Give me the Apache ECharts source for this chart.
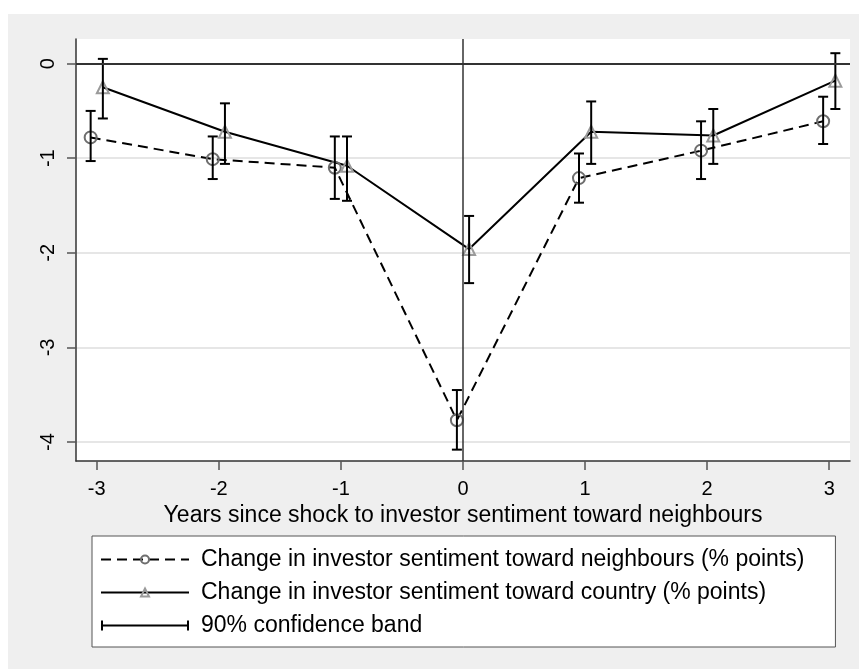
<!DOCTYPE html>
<html>
<head>
<meta charset="utf-8">
<script src="https://cdn.jsdelivr.net/npm/echarts@6/dist/echarts.min.js"></script>
<style>
  html, body { margin: 0; padding: 0; background: #fff; }
  #chart { width: 859px; height: 669px; }
</style>
</head>
<body>
<div id="chart"></div>
<script>
// Data
const years = [-3, -2, -1, 0, 1, 2, 3];
const neighbours = [-0.78, -1.01, -1.10, -3.77, -1.21, -0.92, -0.61];
const neighboursLo = [-1.03, -1.22, -1.43, -4.08, -1.47, -1.22, -0.85];
const neighboursHi = [-0.50, -0.77, -0.77, -3.45, -0.95, -0.61, -0.35];
const country = [-0.25, -0.72, -1.08, -1.96, -0.72, -0.76, -0.18];
const countryLo = [-0.58, -1.06, -1.45, -2.32, -1.06, -1.06, -0.48];
const countryHi = [0.05, -0.42, -0.77, -1.61, -0.40, -0.48, 0.11];
const yTicks = [0, -1, -2, -3, -4];
const dodge = 0.05; // points are shifted a little left/right of each year

const nameNeigh = "Change in investor sentiment toward neighbours (% points)";
const nameCountry = "Change in investor sentiment toward country (% points)";
const nameBand = "90% confidence band";

const FONT = "Arial, 'Liberation Sans', sans-serif";

const neighData = years.map((y, i) => [y - dodge, neighbours[i]]);
const countryData = years.map((y, i) => [y + dodge, country[i]]);
const bandData = years
  .map((y, i) => [y - dodge, neighboursLo[i], neighboursHi[i]])
  .concat(years.map((y, i) => [y + dodge, countryLo[i], countryHi[i]]));

const chart = echarts.init(document.getElementById("chart"), null, { renderer: "canvas" });

const option = {
  animation: false,
  backgroundColor: "#fff",
  textStyle: { fontFamily: FONT },
  graphic: [
    {
      type: "rect",
      z: -10,
      silent: true,
      shape: { x: 8, y: 14, width: 851, height: 655 },
      style: { fill: "#efefef" },
    },
  ],
  grid: {
    left: 76,
    top: 39,
    right: 9,
    bottom: 208,
    show: true,
    backgroundColor: "#fff",
    borderWidth: 0,
  },
  xAxis: {
    type: "value",
    min: -3.17,
    max: 3.17,
    name: "Years since shock to investor sentiment toward neighbours",
    nameLocation: "middle",
    nameGap: 37,
    nameTextStyle: { fontSize: 23, color: "#000", fontFamily: FONT },
    axisLine: { onZero: false, lineStyle: { color: "#333", width: 1.5 } },
    axisTick: { customValues: years, length: 9, lineStyle: { color: "#555", width: 1.5 } },
    axisLabel: { customValues: years, fontSize: 20, color: "#000", margin: 18, fontFamily: FONT },
    splitLine: { show: false },
  },
  yAxis: {
    type: "value",
    min: -4.2,
    max: 0.26,
    axisLine: { show: true, onZero: false, lineStyle: { color: "#333", width: 1.5 } },
    axisTick: { show: true, customValues: yTicks, length: 9, lineStyle: { color: "#555", width: 1.5 } },
    axisLabel: { customValues: yTicks, rotate: 90, fontSize: 20, color: "#000", margin: 18, fontFamily: FONT },
    splitLine: { show: true, lineStyle: { color: "#e6e6e6", width: 2 } },
  },
  legend: {
    orient: "vertical",
    left: 92,
    top: 536,
    padding: [12, 31, 10, 8],
    itemGap: 10,
    itemWidth: 88,
    itemHeight: 10,
    backgroundColor: "#fff",
    borderColor: "#555",
    borderWidth: 1,
    borderRadius: 0,
    textStyle: { fontSize: 23, color: "#000", fontFamily: FONT, lineHeight: 22, padding: [0, 0, 0, 7] },
    data: [
      { name: nameNeigh },
      { name: nameCountry },
      {
        name: nameBand,
        icon: "path://M0,0h2v10h-2z M2,4h84v2h-84z M86,0h2v10h-2z",
        itemStyle: { color: "#000" },
      },
    ],
  },
  series: [
    {
      name: nameNeigh,
      type: "line",
      data: neighData,
      symbol: "circle",
      symbolSize: 12,
      itemStyle: { color: "rgba(255,255,255,0)", borderColor: "#6e6e6e", borderWidth: 2 },
      lineStyle: { color: "#000", width: 2, type: [10, 6] },
      z: 3,
      markLine: {
        silent: true,
        symbol: "none",
        label: { show: false },
        lineStyle: { color: "#333", width: 2, type: "solid" },
        data: [{ yAxis: 0 }, { xAxis: 0, lineStyle: { width: 1.5 } }],
      },
    },
    {
      name: nameCountry,
      type: "line",
      data: countryData,
      symbol: "triangle",
      symbolSize: 12,
      itemStyle: { color: "rgba(255,255,255,0)", borderColor: "#9a9a9a", borderWidth: 2 },
      lineStyle: { color: "#000", width: 2 },
      z: 3,
    },
    {
      name: nameBand,
      type: "custom",
      data: bandData,
      encode: { x: 0, y: [1, 2] },
      itemStyle: { color: "#000" },
      z: 4,
      renderItem: function (params, api) {
        const x = api.value(0);
        const top = api.coord([x, api.value(2)]);
        const bot = api.coord([x, api.value(1)]);
        const hw = 5;
        const st = { stroke: "#000", lineWidth: 2 };
        return {
          type: "group",
          children: [
            { type: "line", shape: { x1: top[0], y1: top[1], x2: bot[0], y2: bot[1] }, style: st },
            { type: "line", shape: { x1: top[0] - hw, y1: top[1], x2: top[0] + hw, y2: top[1] }, style: st },
            { type: "line", shape: { x1: bot[0] - hw, y1: bot[1], x2: bot[0] + hw, y2: bot[1] }, style: st },
          ],
        };
      },
    },
  ],
};

chart.setOption(option);

window.addEventListener("resize", () => {
  chart.resize();
});
</script>
</body>
</html>
